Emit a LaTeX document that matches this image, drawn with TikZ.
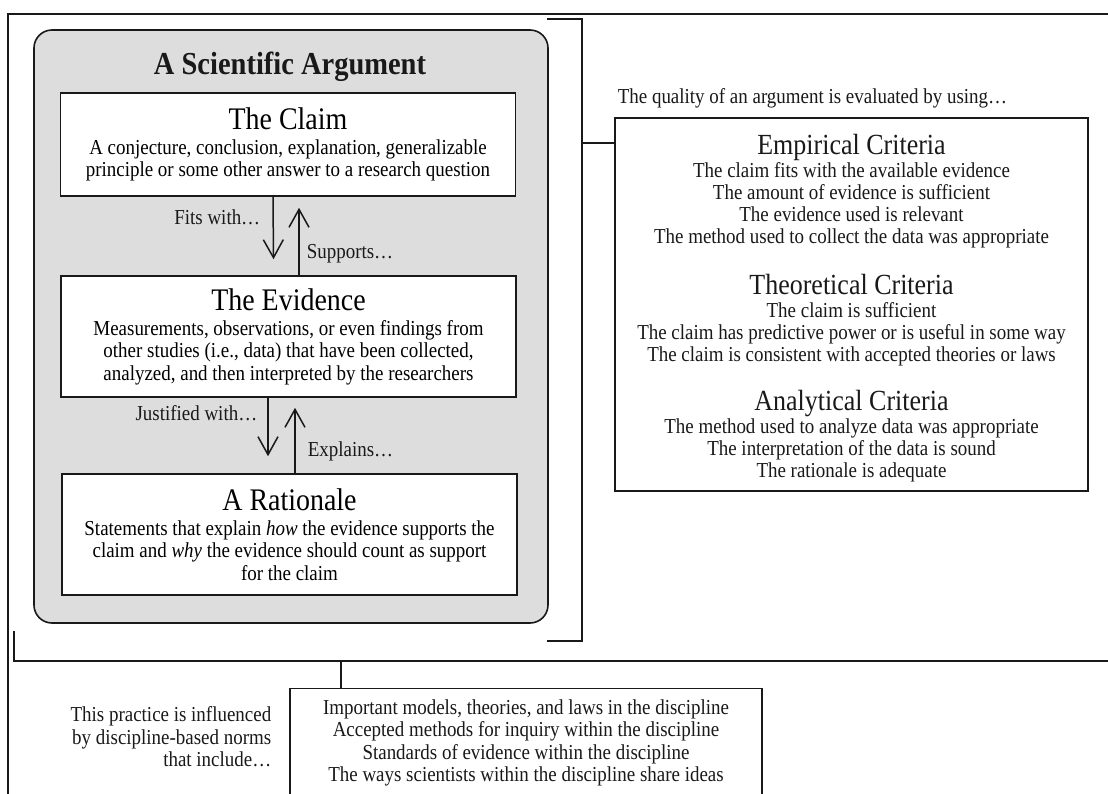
\documentclass[tikz,border=0pt]{standalone}
\usepackage{fontspec}
\setmainfont{Liberation Serif}[FakeStretch=0.89]
\usetikzlibrary{arrows.meta,calc}
\definecolor{panelgray}{RGB}{221,221,221}
\definecolor{ink}{RGB}{25,25,25}
\newcommand\bodyfont{\fontsize{21.3}{22.5}\selectfont}
\newcommand\critfont{\fontsize{21.3}{22.2}\selectfont}
\newcommand\headfont{\fontsize{31.4}{33}\selectfont}
\newcommand\crithead{\fontsize{29.2}{31}\selectfont}
\begin{document}
\begin{tikzpicture}[x=1pt,y=-1pt,line width=1.6pt,draw=ink,
  card/.style={draw=ink,fill=white,minimum width=455pt,align=center,font=\bodyfont,inner sep=0pt},
  arr/.style={draw=ink,line width=1.5pt,-{Straight Barb[length=18pt,width=20pt]}},
  lbl/.style={inner sep=0pt,font=\bodyfont,text=ink},
  bracket/.style={draw=ink,line width=1.5pt}]
\useasboundingbox (0,0) rectangle (1108,793);
\clip (0,0) rectangle (1108,793);
\fill[white] (0,0) rectangle (1108,793);

% outer frame
\draw[line width=2.3pt] (8,830) -- (8,14) -- (1140,14);

% grey panel
\node[draw=ink,fill=panelgray,rounded corners=18pt,minimum width=514pt,minimum height=593pt,inner sep=0pt] (panel) at (291,326.5) {};
\node[inner sep=0pt,font=\bfseries\fontsize{32}{34}\selectfont,text=ink] (title) at (290,67) {A Scientific Argument};

\node[card,minimum height=103pt] (claim) at (288,144.5) {{\headfont The Claim}\\[2.5pt]
A conjecture, conclusion, explanation, generalizable\\
principle or some other answer to a research question};

\node[card,minimum height=121pt] (evid) at (288.5,336.5) {{\headfont The Evidence}\\[2.5pt]
Measurements, observations, or even findings from\\
other studies (i.e., data) that have been collected,\\
analyzed, and then interpreted by the researchers};

\node[card,minimum height=121pt] (rat) at (289.5,534.5) {{\headfont A Rationale}\\[2.5pt]
Statements that explain \emph{how} the evidence supports the\\
claim and \emph{why} the evidence should count as support\\
for the claim};

% arrows
\draw[arr] ($(claim.south)+(-15,0)$) -- ($(evid.north)+(-15,-16)$);
\draw[arr] ($(evid.north)+(10.5,0)$) -- ($(claim.south)+(11,11)$);
\draw[arr] ($(evid.south)+(-20.5,0)$) -- ($(rat.north)+(-21.5,-17)$);
\draw[arr] ($(rat.north)+(5.5,0)$) -- ($(evid.south)+(6.5,10)$);

\node[lbl,anchor=east] (fits) at (261,217) {Fits with…};
\node[lbl,anchor=west] (supp) at (306,254) {Supports…};
\node[lbl,anchor=east] (just) at (258,413) {Justified with…};
\node[lbl,anchor=west] (expl) at (307,451) {Explains…};

% right bracket
\coordinate (bt) at (582,19);
\coordinate (bb) at (582,641);
\coordinate (bm) at (582,143);
\draw[bracket] (547,19) -- (bt) -- (bb) -- (547,641);

\node[lbl,anchor=west] (quality) at (617,98) {The quality of an argument is evaluated by using…};

\node[draw=ink,fill=white,minimum width=473pt,minimum height=373pt,inner sep=0pt] (crit) at (851.5,304.5) {};
\node[align=center,font=\critfont,inner sep=0pt,text=ink] (crittext) at (851.5,308) {{\crithead Empirical Criteria}\\[0.5pt]
The claim fits with the available evidence\\
The amount of evidence is sufficient\\
The evidence used is relevant\\
The method used to collect the data was appropriate\\[25.5pt]
{\crithead Theoretical Criteria}\\
The claim is sufficient\\
The claim has predictive power or is useful in some way\\
The claim is consistent with accepted theories or laws\\[23.5pt]
{\crithead Analytical Criteria}\\
The method used to analyze data was appropriate\\
The interpretation of the data is sound\\
The rationale is adequate};
\draw[bracket] (bm) -- (bm -| crit.west);

% bottom bracket
\coordinate (bl) at (14,631);
\coordinate (bc) at (14,661);
\coordinate (tk) at (341,661);
\draw[bracket] (bl) -- (bc) -- (1140,661);

\node[draw=ink,fill=white,minimum width=472pt,minimum height=109pt,align=center,font=\bodyfont,inner sep=0pt,text=ink] (norms) at (526,743) {Important models, theories, and laws in the discipline\\
Accepted methods for inquiry within the discipline\\
Standards of evidence within the discipline\\
The ways scientists within the discipline share ideas};
\draw[bracket] (tk) -- (tk |- norms.north);

\node[lbl,align=right,anchor=east] (infl) at (272,737) {This practice is influenced\\
by discipline-based norms\\
that include…};
\end{tikzpicture}
\end{document}
